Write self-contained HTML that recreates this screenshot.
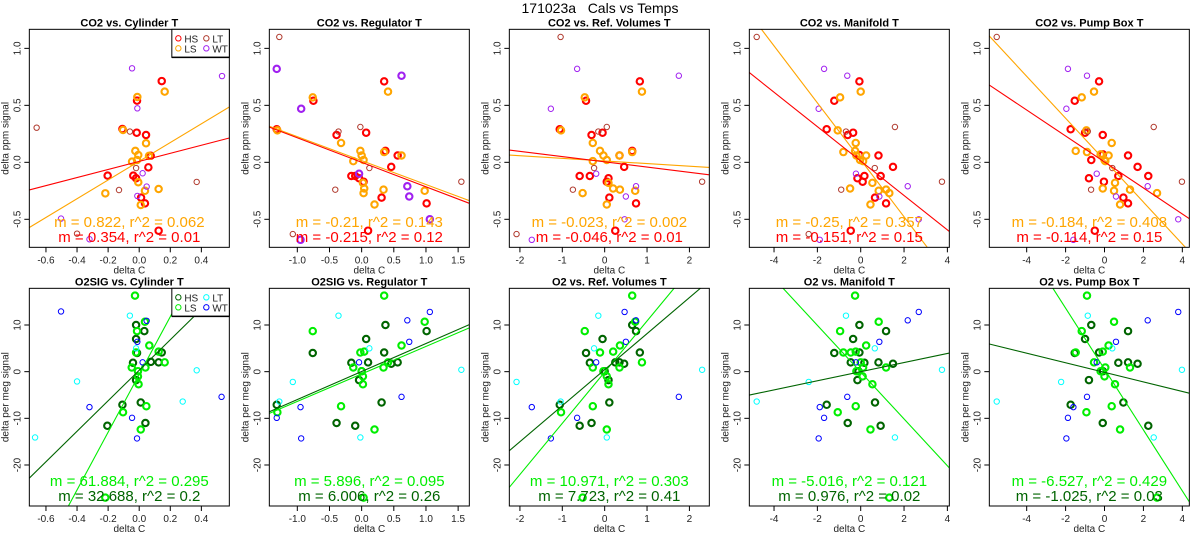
<!DOCTYPE html>
<html><head><meta charset="utf-8">
<style>
html,body{margin:0;padding:0;background:#fff;overflow:hidden;width:1200px;height:550px;}
svg{display:block;font-family:"Liberation Sans",sans-serif;}
</style></head>
<body>
<svg id="chart" width="1200" height="550" viewBox="0 0 1200 550" xmlns="http://www.w3.org/2000/svg">
<rect width="1200" height="550" fill="#fff"/>
<text x="600" y="13" text-anchor="middle" font-size="14" fill="#000" style="white-space:pre" xml:space="preserve">171023a   Cals vs Temps</text>
<g id="panels"></g>
</svg>
<script>
// ---- axis config ----
const colTitles = ["Cylinder T","Regulator T","Ref. Volumes T","Manifold T","Pump Box T"];
const colXMin = [-0.707,-1.435,-2.25,-5.14,-5.92];
const colXMax = [0.58,1.674,2.47,4.09,4.36];
const xTicks1 = [-0.6,-0.4,-0.2,0.0,0.2,0.4];
const xTickLabels1 = ["-0.6","-0.4","-0.2","0.0","0.2","0.4"];
const xTicks2 = [-1.0,-0.5,0.0,0.5,1.0,1.5];
const xTickLabels2 = ["-1.0","-0.5","0.0","0.5","1.0","1.5"];
const xTicks3 = [-2,-1,0,1,2];
const xTickLabels3 = ["-2","-1","0","1","2"];
const xTicks45 = [-4,-2,0,2,4];
const xTickLabels45 = ["-4","-2","0","2","4"];
const co2YTicks = [-0.5,0.0,0.5,1.0];
const co2YTickLabels = ["-0.5","0.0","0.5","1.0"];
const o2YTicks = [-20,-10,0,10];
const o2YTickLabels = ["-20","-10","0","10"];
const co2YRange = [-0.746,1.167];
const o2YRange = [-28.79,17.86];

// ---- fit lines: slopes and intercepts (LS, HS) ----
const co2LSm = [0.822,-0.21,-0.023,-0.25,-0.184];
const co2LSb = [0.009,0.015,0.012,0.022,0.019];
const co2HSm = [0.354,-0.215,-0.046,-0.151,-0.114];
const co2HSb = [0.008,0.0,0.004,0.011,0.003];
const o2LSm = [61.884,5.896,10.971,-5.016,-6.527];
const o2LSb = [-0.6,-0.49,-0.1,-0.1,0.56];
const o2HSm = [32.688,6.006,7.723,0.976,-1.025];
const o2HSb = [0.3,0.03,0.43,0.0,-0.14];
const co2LSText = ["m = 0.822, r^2 = 0.062","m = -0.21, r^2 = 0.143","m = -0.023, r^2 = 0.002","m = -0.25, r^2 = 0.357","m = -0.184, r^2 = 0.408"];
const co2HSText = ["m = 0.354, r^2 = 0.01","m = -0.215, r^2 = 0.12","m = -0.046, r^2 = 0.01","m = -0.151, r^2 = 0.15","m = -0.114, r^2 = 0.15"];
const o2LSText = ["m = 61.884, r^2 = 0.295","m = 5.896, r^2 = 0.095","m = 10.971, r^2 = 0.303","m = -5.016, r^2 = 0.121","m = -6.527, r^2 = 0.429"];
const o2HSText = ["m = 32.688, r^2 = 0.2","m = 6.006, r^2 = 0.26","m = 7.723, r^2 = 0.41","m = 0.976, r^2 = 0.02","m = -1.025, r^2 = 0.03"];

// ---- CO2 data (delta C, delta ppm) ----
const co2_1_HS=[[0.145,0.713],[-0.014,0.541],[-0.108,0.292],[-0.016,0.26],[0.044,0.24],[0.074,0.058],[0.059,-0.044],[-0.203,-0.117],[-0.038,-0.117],[-0.02,-0.14],[0.012,-0.31],[0.037,-0.36],[0.125,-0.6]];
const co2_1_LS=[[-0.012,0.573],[0.164,0.62],[-0.104,0.284],[0.044,0.167],[-0.025,0.1],[-0.006,0.064],[-0.014,0.02],[-0.046,0.006],[0.063,0.056],[-0.006,-0.175],[-0.218,-0.272],[0.037,-0.25],[0.125,-0.234],[0.01,-0.374]];
const co2_1_LT=[[-0.66,0.304],[-0.06,0.27],[-0.02,-0.05],[-0.13,-0.243],[0.37,-0.172],[-0.4,-0.626]];
const co2_1_WT=[[-0.046,0.825],[0.533,0.757],[-0.012,0.474],[0.022,-0.096],[0.048,-0.213],[-0.012,-0.295],[-0.503,-0.494],[-0.32,-0.675]];

const co2_2_HS=[[0.35,0.71],[-0.75,0.54],[-1.32,0.29],[-0.39,0.24],[0.07,0.26],[0.37,0.1],[0.56,0.06],[0.46,-0.04],[-0.16,-0.12],[-0.1,-0.12],[-0.04,-0.14],[0.03,-0.17],[0.31,-0.31],[1.01,-0.36],[0.1,-0.6]];
const co2_2_LS=[[-0.76,0.57],[0.41,0.62],[-1.31,0.28],[-0.32,0.17],[-0.02,0.1],[0,0.06],[0.03,0.02],[-0.13,0.01],[0.62,0.06],[0.35,0.09],[0.02,-0.18],[0.04,-0.23],[0.03,-0.27],[0.34,-0.24],[0.98,-0.25],[0.2,-0.37]];
const co2_2_LT=[[-1.28,1.1],[-0.36,0.27],[-0.02,0.31],[0.12,-0.05],[-0.41,-0.24],[1.55,-0.17],[-1.07,-0.63]];
const co2_2_WT=[[-1.32,0.82],[-0.94,0.47],[0.62,0.76],[-0.04,-0.1],[0.71,-0.21],[0.74,-0.3],[1.06,-0.5],[-0.95,-0.68]];

const co2_3_HS=[[0.83,0.71],[-0.44,0.54],[-1.06,0.29],[-0.31,0.24],[-0.05,0.26],[0.35,0.06],[0.65,0.1],[0.46,-0.04],[-0.59,-0.12],[-0.35,-0.12],[0.09,-0.14],[0.05,-0.17],[0.11,-0.31],[0.74,-0.36],[0.25,-0.6]];
const co2_3_LS=[[-0.47,0.57],[0.88,0.62],[-1.03,0.28],[-0.28,0.17],[-0.11,0.1],[-0.03,0.06],[0.05,0.02],[-0.28,0.01],[0.35,0.06],[0.65,0.09],[0.09,-0.18],[0.2,-0.23],[-0.52,-0.27],[0.36,-0.24],[0.72,-0.25],[0.05,-0.37]];
const co2_3_LT=[[-1.04,1.1],[-0.15,0.27],[0.05,0.31],[-0.25,-0.05],[-0.75,-0.24],[2.3,-0.17],[-2.08,-0.63]];
const co2_3_WT=[[-0.65,0.82],[-1.27,0.47],[1.75,0.76],[-0.2,-0.1],[0.74,-0.21],[0.5,-0.3],[0.47,-0.5],[-1.72,-0.68]];

const co2_4_HS=[[-0.06,0.71],[-1.22,0.54],[-1.57,0.29],[-0.6,0.24],[-0.35,0.26],[0.82,0.06],[-0.06,0.064],[1.49,-0.04],[0.17,-0.12],[0.92,-0.12],[-0.15,-0.14],[0.09,-0.17],[0.66,-0.31],[1.17,-0.36],[-0.46,-0.6]];
const co2_4_LS=[[-0.95,0.57],[0,0.62],[-1.06,0.28],[-0.23,0.17],[-0.26,0.1],[-0.2,0.06],[-0.03,0.02],[0.11,0.01],[0.25,0.06],[-0.8,0.09],[0.54,-0.18],[1.17,-0.24],[0.83,-0.25],[1.32,-0.27],[-0.49,-0.23],[0.45,-0.37]];
const co2_4_LT=[[-4.8,1.1],[-0.68,0.27],[1.58,0.31],[0.65,-0.05],[-0.9,-0.24],[3.75,-0.17],[-2.4,-0.63]];
const co2_4_WT=[[-1.69,0.82],[-0.62,0.76],[-1.94,0.47],[-0.22,-0.1],[2.17,-0.21],[0.86,-0.3],[2.68,-0.5],[-1.89,-0.68]];

const co2_5_HS=[[-0.28,0.71],[-1.53,0.54],[-1.74,0.29],[-1.0,0.26],[-0.09,0.24],[-0.08,0.07],[1.21,0.06],[-0.68,0.02],[1.7,-0.04],[0.71,-0.12],[2.25,-0.12],[-0.8,-0.14],[-0.03,-0.17],[0.97,-0.31],[1.21,-0.36],[-0.5,-0.6]];
const co2_5_LS=[[-1.17,0.57],[-0.54,0.62],[-0.93,0.28],[0.37,0.17],[-1.48,0.1],[-0.9,0.09],[-0.2,0.07],[0.21,0.06],[0,0.02],[0.04,0.01],[0.54,-0.18],[1.31,-0.24],[0.49,-0.25],[2.7,-0.27],[-0.09,-0.23],[0.8,-0.37]];
const co2_5_LT=[[-5.54,1.1],[-0.86,0.27],[2.53,0.31],[0.4,-0.05],[-0.69,-0.24],[3.98,-0.17]];
const co2_5_WT=[[-1.88,0.82],[-0.9,0.76],[-1.96,0.47],[-0.4,-0.1],[2.22,-0.21],[0.59,-0.3],[3.79,-0.5],[-1.6,-0.68]];

// ---- O2 data (delta C, delta per meg) ----
const o2_1_HS=[[-0.02,10],[0.033,8.7],[-0.02,7],[-0.014,4],[0.145,4.1],[-0.04,1.9],[0.075,2.1],[0.125,2],[-0.02,-1.8],[0.01,-6.6],[-0.108,-7.1],[0.04,-11],[-0.205,-11.6]];
const o2_1_LS=[[-0.027,16.3],[0.037,10.7],[-0.014,8.7],[0.065,5.6],[0.125,4.3],[-0.02,4.1],[0.164,2],[-0.048,0.9],[0.04,0.9],[-0.008,0.1],[-0.008,-1],[-0.004,-2.7],[-0.104,-8.7],[0.046,-7.4],[0.01,-12.4],[-0.218,-27]];
const o2_1_LT=[[-0.06,12],[-0.02,5],[-0.4,-2.1],[0.37,0.3],[0.28,-6.4],[-0.67,-14.1]];
const o2_1_WT=[[-0.503,12.9],[0.048,10.9],[-0.012,6.4],[0.022,2],[-0.32,-7.6],[-0.046,-9.9],[-0.014,-14.3],[0.53,-5.4]];

const o2_2_HS=[[0.37,10],[0.07,7],[-0.76,4],[0.35,4.1],[-0.16,1.9],[0.1,2],[0.56,2],[0.46,1.7],[0,0.1],[-0.04,-1.8],[0.31,-6.6],[-1.32,-7.1],[-0.39,-11],[-0.1,-11.6],[1.01,8.7]];
const o2_2_LS=[[0.35,16.3],[0.98,10.7],[-0.76,8.7],[0.62,5.6],[-0.02,4.1],[0.04,4.3],[0.41,2],[-0.13,0.9],[0.34,0.9],[0,0.1],[0.02,-1],[0.02,-2.7],[-1.31,-8.7],[-0.32,-7.4],[0.2,-12.4],[0.03,-27]];
const o2_2_LT=[[-0.36,12],[0.12,5],[-1.07,-2.2],[1.55,0.4],[-1.28,-6.4],[-0.02,-14.1]];
const o2_2_WT=[[1.06,12.8],[0.71,11],[0.74,6.4],[-0.04,2],[0.62,-5.4],[-0.95,-7.6],[-1.32,-9.9],[-0.94,-14.3]];

const o2_3_HS=[[0.65,10],[0.74,8.7],[-0.05,7],[-0.44,4],[0.83,4.1],[-0.35,1.9],[0.35,2],[0.25,2],[0.46,1.7],[0,0.1],[0.09,-1.8],[0.11,-6.6],[-1.06,-7.1],[-0.31,-11],[-0.59,-11.6]];
const o2_3_LS=[[0.65,16.3],[0.72,10.7],[-0.47,8.7],[0.36,5.6],[-0.11,4.1],[0.2,4.3],[0.88,2],[-0.28,0.9],[0.35,0.9],[-0.03,0.1],[0.05,-1],[0.09,-2.7],[-1.03,-8.7],[-0.28,-7.4],[0.05,-12.4],[-0.52,-27]];
const o2_3_LT=[[-0.15,12],[-0.25,5],[-2.08,-2.2],[2.3,0.4],[-1.04,-6.4],[0.05,-14.1]];
const o2_3_WT=[[0.47,12.8],[0.74,11],[0.5,6.4],[-0.2,2],[1.75,-5.4],[-1.72,-7.6],[-0.65,-9.9],[-1.27,-14.3]];

const o2_4_HS=[[-0.06,10],[1.17,8.7],[-0.35,7],[-1.22,4],[-0.06,4.1],[-0.46,2],[0.82,2],[0.17,1.9],[1.49,1.7],[-0.1,0.1],[-0.15,-1.8],[0.66,-6.6],[-1.57,-7.1],[-0.6,-11],[0.92,-11.6]];
const o2_4_LS=[[-0.26,16.3],[0.83,10.7],[-0.95,8.7],[0.25,5.6],[-0.23,4.3],[-0.8,4.1],[-0.46,4.1],[0,2],[1.17,0.9],[0.11,0.9],[-0.2,0.1],[0.09,-1],[0.54,-2.7],[-1.06,-8.7],[-0.23,-7.4],[0.45,-12.4],[1.32,-27]];
const o2_4_LT=[[-0.68,12],[0.65,5],[-2.4,-2.2],[3.75,0.4],[-4.8,-6.4],[1.58,-14.1]];
const o2_4_WT=[[2.68,12.8],[2.17,11],[0.86,6.4],[-0.22,2],[-0.62,-5.4],[-1.89,-7.6],[-1.69,-9.9],[-1.94,-14.3]];

const o2_5_HS=[[-0.68,10],[1.21,8.7],[-1.0,7],[-0.28,4.1],[-1.53,4],[0.71,1.9],[1.21,2],[1.7,1.7],[-0.08,0.1],[-0.8,-1.8],[0.97,-6.6],[-1.74,-7.1],[-0.09,-11],[2.25,-11.6]];
const o2_5_LS=[[-0.9,16.3],[0.49,10.7],[-1.17,8.7],[0.21,5.6],[-0.09,4.3],[-1.48,4.1],[-0.54,2],[1.31,0.9],[0.04,0.9],[-0.2,0.1],[0,-1],[0.54,-2.7],[-0.93,-8.7],[0.37,-7.4],[0.8,-12.4],[2.7,-27]];
const o2_5_LT=[[-0.86,12],[0.4,5],[-2.23,-2.2],[3.98,0.4],[-5.54,-6.4],[2.53,-14.1]];
const o2_5_WT=[[3.79,12.8],[2.22,11],[0.59,6.4],[-0.4,2],[-0.9,-5.4],[-1.6,-7.6],[-1.88,-9.9],[-1.96,-14.3]];

const NS="http://www.w3.org/2000/svg";
const root=document.getElementById('panels');
function mk(tag,attrs,parent){const e=document.createElementNS(NS,tag);for(const k in attrs)e.setAttribute(k,attrs[k]);(parent||root).appendChild(e);return e;}

const co2Data=[[co2_1_HS,co2_1_LS,co2_1_LT,co2_1_WT],[co2_2_HS,co2_2_LS,co2_2_LT,co2_2_WT],[co2_3_HS,co2_3_LS,co2_3_LT,co2_3_WT],[co2_4_HS,co2_4_LS,co2_4_LT,co2_4_WT],[co2_5_HS,co2_5_LS,co2_5_LT,co2_5_WT]];
const o2Data=[[o2_1_HS,o2_1_LS,o2_1_LT,o2_1_WT],[o2_2_HS,o2_2_LS,o2_2_LT,o2_2_WT],[o2_3_HS,o2_3_LS,o2_3_LT,o2_3_WT],[o2_4_HS,o2_4_LS,o2_4_LT,o2_4_WT],[o2_5_HS,o2_5_LS,o2_5_LT,o2_5_WT]];
const xTickSets=[[xTicks1,xTickLabels1],[xTicks2,xTickLabels2],[xTicks3,xTickLabels3],[xTicks45,xTickLabels45],[xTicks45,xTickLabels45]];
const seriesNames=["HS","LS","LT","WT"];
const co2Colors=["#ff0000","#ffa500","#b03a2e","#a020f0"];
const o2Colors=["#006400","#00ee00","#00ffff","#0000ff"];
const o2Titles=["O2SIG vs. ","O2SIG vs. ","O2 vs. ","O2 vs. ","O2 vs. "];

function drawPanel(c,row){
  const L=29.33+240*c, R=L+200;
  const T=row===0?29.33:288.33, B=row===0?247.33:506;
  const yr=row===0?co2YRange:o2YRange;
  const xs=v=>L+(v-colXMin[c])/(colXMax[c]-colXMin[c])*(R-L);
  const ys=v=>B-(v-yr[0])/(yr[1]-yr[0])*(B-T);
  const g=mk('g',{});
  
  
  const cid='clip'+row+'_'+c;
  const cp=mk('clipPath',{id:cid},g);mk('rect',{x:L,y:T,width:R-L,height:B-T},cp);
  const t=mk('text',{x:(L+R)/2,y:T-3,'text-anchor':'middle','font-size':'11','font-weight':'bold',fill:'#000'},g);
  t.textContent=(row===0?"CO2 vs. ":o2Titles[c])+colTitles[c];
  
  
  const [xt,xl]=xTickSets[c];
  xt.forEach((v,i)=>{
    const x=xs(v);
    const tk=mk('line',{x1:x,x2:x,y1:B,y2:B+5,stroke:'#000','stroke-width':1},g);
    
    
    const lb=mk('text',{x:x,y:B+16,'text-anchor':'middle','font-size':'10',fill:'#222'},g);
    lb.textContent=xl[i];
    
    
  });
  const xlab=mk('text',{x:(L+R)/2,y:B+26,'text-anchor':'middle','font-size':'10',fill:'#222'},g);
  xlab.textContent='delta C';
  
  
  const yt=row===0?co2YTicks:o2YTicks, yl=row===0?co2YTickLabels:o2YTickLabels;
  yt.forEach((v,i)=>{
    const y=ys(v);
    const tk=mk('line',{x1:L-5,x2:L,y1:y,y2:y,stroke:'#000','stroke-width':1},g);
    
    
    const lx=L-9;
    const lb=mk('text',{x:lx,y:y,'text-anchor':'middle','font-size':'10',fill:'#222',transform:`rotate(-90 ${lx} ${y})`},g);
    lb.textContent=yl[i];
    
    
  });
  const yx=L-21, ym=(T+B)/2;
  const ylab=mk('text',{x:yx,y:ym,'text-anchor':'middle','font-size':'10',fill:'#222',transform:`rotate(-90 ${yx} ${ym})`},g);
  ylab.textContent=row===0?'delta ppm signal':'delta per meg signal';
  
  
  const data=row===0?co2Data[c]:o2Data[c];
  const cols=row===0?co2Colors:o2Colors;
  const pg=mk('g',{'clip-path':`url(#${cid})`},g);
  data.forEach((ser,si)=>{
    const thick=si<2 || (row===0&&c===1&&si===3);
    ser.forEach(p=>{
      const ci=mk('circle',{cx:xs(p[0]),cy:ys(p[1]),r:thick?3.2:2.7,fill:'none',stroke:cols[si],'stroke-width':thick?2.1:1},pg);
      
      
    });
  });
  const lsm=row===0?co2LSm[c]:o2LSm[c], lsb=row===0?co2LSb[c]:o2LSb[c];
  const hsm=row===0?co2HSm[c]:o2HSm[c], hsb=row===0?co2HSb[c]:o2HSb[c];
  const x0=colXMin[c], x1=colXMax[c];
  const l1=mk('line',{x1:xs(x0),y1:ys(lsm*x0+lsb),x2:xs(x1),y2:ys(lsm*x1+lsb),stroke:cols[1],'stroke-width':1.1},pg);
  
  
  const l2=mk('line',{x1:xs(x0),y1:ys(hsm*x0+hsb),x2:xs(x1),y2:ys(hsm*x1+hsb),stroke:cols[0],'stroke-width':1.1},pg);
  
  
  const bx=mk('rect',{x:L,y:T,width:R-L,height:B-T,fill:'none',stroke:'#000','stroke-width':1},g);
  
  
  const a1=mk('text',{x:(L+R)/2,y:row===0?227:486,'text-anchor':'middle','font-size':'15',fill:cols[1]},g);
  a1.textContent=row===0?co2LSText[c]:o2LSText[c];
  
  
  const a2=mk('text',{x:(L+R)/2,y:row===0?242:501,'text-anchor':'middle','font-size':'15',fill:cols[0]},g);
  a2.textContent=row===0?co2HSText[c]:o2HSText[c];
  
  
  if(c===0){
    const lg=mk('g',{},g);
    
    
    mk('rect',{x:R-57.5,y:T,width:57.5,height:28,fill:'#fff',stroke:'#000','stroke-width':1},lg);
    mk('line',{x1:R-57.5,y1:T+28,x2:R,y2:T+28,stroke:'#000','stroke-width':1.5},lg);
    const pos=[[R-51,T+9],[R-51,T+19],[R-23,T+9],[R-23,T+19]];
    seriesNames.forEach((n,i)=>{
      const [px,py]=pos[i];
      const le=mk('g',{},lg);
      
      
      mk('circle',{cx:px,cy:py,r:2.7,fill:'none',stroke:cols[i],'stroke-width':1},le);
      const tx=mk('text',{x:px+6,y:py+4,'font-size':'10',fill:'#222'},le);
      tx.textContent=n;
    });
  }
}
for(let r=0;r<2;r++)for(let c=0;c<5;c++)drawPanel(c,r);
</script>
</body></html>
